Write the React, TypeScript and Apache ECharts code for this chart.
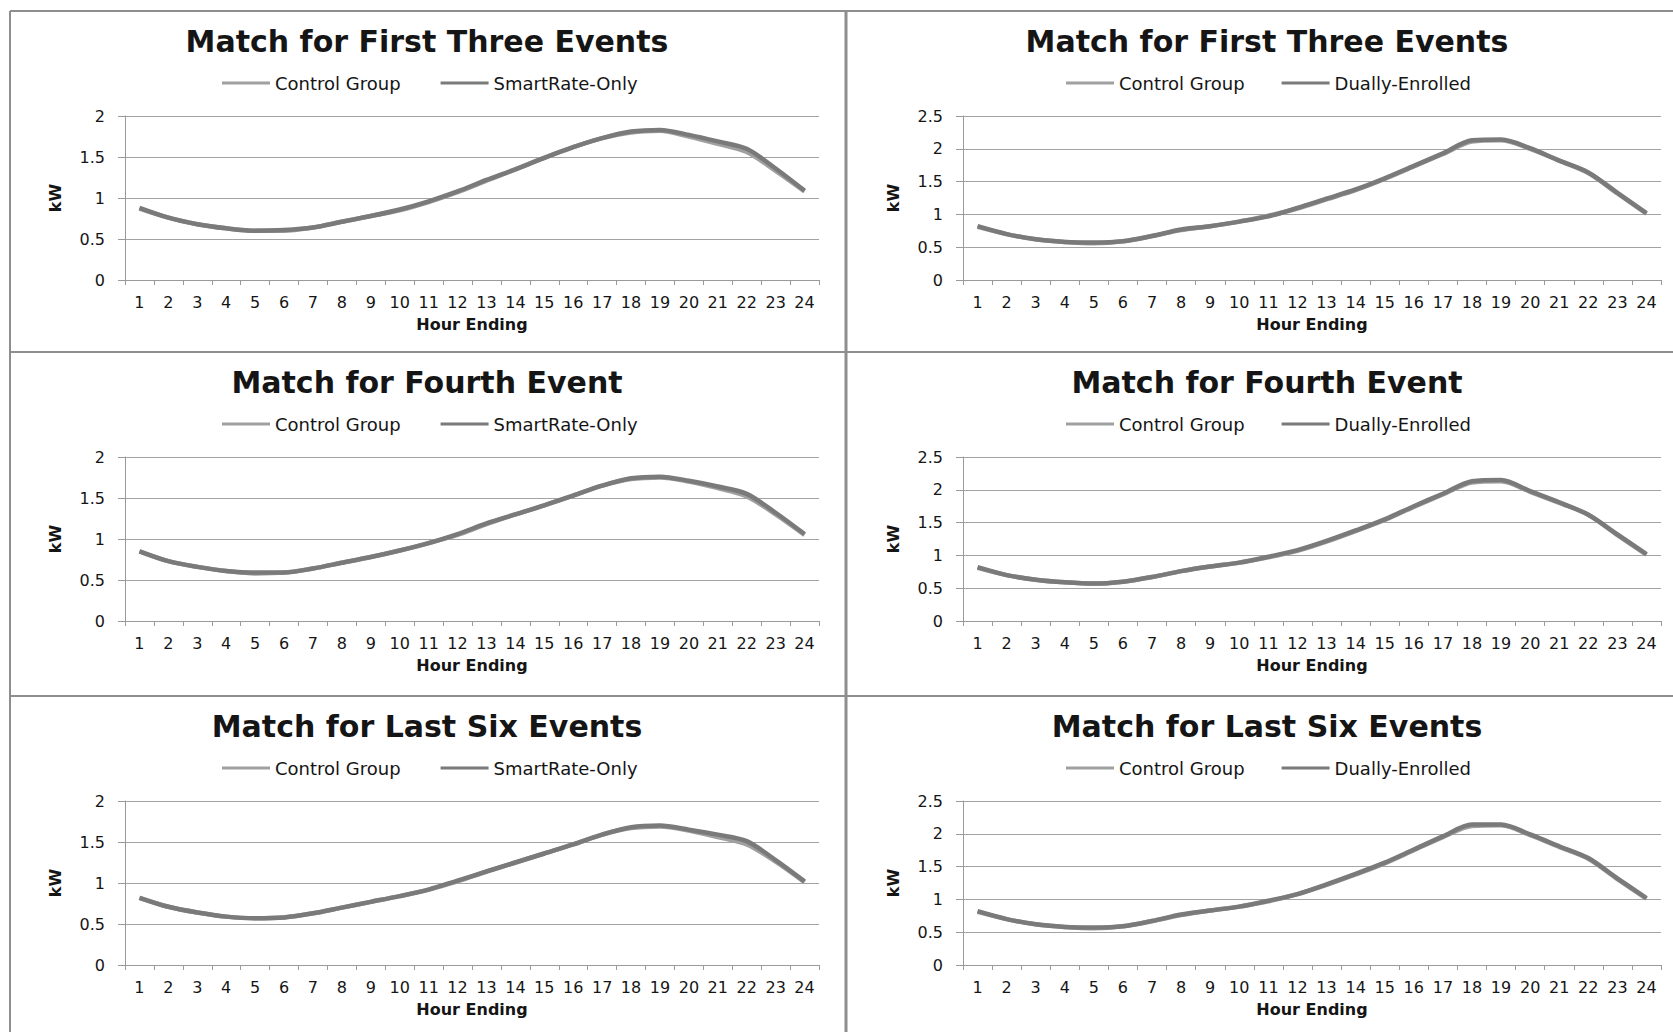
import React, { useEffect, useRef } from "react";
import * as echarts from "echarts";

// Hour-ending categories shared by all six panels
const hours: string[] = Array.from({ length: 24 }, (_, i) => String(i + 1));

// Left column: Control Group vs SmartRate-Only (kW)
const firstThreeControlA: number[] = [0.87, 0.76, 0.68, 0.63, 0.60, 0.60, 0.64, 0.71, 0.78, 0.85, 0.95, 1.07, 1.21, 1.35, 1.49, 1.62, 1.73, 1.80, 1.82, 1.75, 1.66, 1.56, 1.33, 1.08];
const firstThreeSmartRate: number[] = [0.88, 0.76, 0.68, 0.63, 0.60, 0.61, 0.64, 0.71, 0.78, 0.86, 0.96, 1.08, 1.22, 1.35, 1.49, 1.62, 1.73, 1.81, 1.83, 1.77, 1.69, 1.60, 1.36, 1.09];
const fourthControlA: number[] = [0.85, 0.73, 0.66, 0.61, 0.58, 0.59, 0.64, 0.71, 0.78, 0.86, 0.95, 1.05, 1.18, 1.30, 1.41, 1.53, 1.65, 1.73, 1.75, 1.70, 1.62, 1.52, 1.30, 1.05];
const fourthSmartRate: number[] = [0.85, 0.73, 0.66, 0.61, 0.59, 0.59, 0.64, 0.71, 0.78, 0.86, 0.95, 1.06, 1.19, 1.30, 1.41, 1.53, 1.65, 1.74, 1.76, 1.71, 1.64, 1.55, 1.32, 1.06];
const lastSixControlA: number[] = [0.82, 0.71, 0.64, 0.59, 0.57, 0.58, 0.63, 0.70, 0.77, 0.84, 0.92, 1.02, 1.14, 1.25, 1.36, 1.47, 1.59, 1.67, 1.69, 1.64, 1.56, 1.47, 1.26, 1.01];
const lastSixSmartRate: number[] = [0.82, 0.71, 0.64, 0.59, 0.57, 0.58, 0.63, 0.70, 0.77, 0.84, 0.92, 1.03, 1.14, 1.25, 1.36, 1.47, 1.59, 1.68, 1.70, 1.65, 1.59, 1.51, 1.28, 1.02];

// Right column: Control Group vs Dually-Enrolled (kW)
const firstThreeControlB: number[] = [0.81, 0.70, 0.62, 0.58, 0.56, 0.59, 0.67, 0.76, 0.82, 0.89, 0.98, 1.09, 1.23, 1.37, 1.54, 1.73, 1.92, 2.11, 2.13, 2.00, 1.82, 1.63, 1.32, 1.01];
const firstThreeDually: number[] = [0.82, 0.70, 0.62, 0.58, 0.57, 0.59, 0.67, 0.77, 0.82, 0.89, 0.97, 1.10, 1.24, 1.38, 1.55, 1.74, 1.93, 2.13, 2.14, 2.01, 1.82, 1.64, 1.33, 1.02];
const fourthControlB: number[] = [0.81, 0.70, 0.63, 0.59, 0.57, 0.60, 0.67, 0.76, 0.83, 0.89, 0.97, 1.07, 1.21, 1.37, 1.54, 1.74, 1.93, 2.11, 2.13, 1.97, 1.80, 1.62, 1.31, 1.01];
const fourthDually: number[] = [0.82, 0.70, 0.63, 0.59, 0.57, 0.60, 0.67, 0.76, 0.83, 0.89, 0.98, 1.08, 1.22, 1.38, 1.55, 1.75, 1.94, 2.13, 2.15, 1.98, 1.81, 1.62, 1.32, 1.02];
const lastSixControlB: number[] = [0.81, 0.70, 0.62, 0.58, 0.56, 0.59, 0.67, 0.76, 0.83, 0.89, 0.97, 1.08, 1.22, 1.38, 1.55, 1.75, 1.95, 2.12, 2.13, 1.98, 1.80, 1.62, 1.31, 1.01];
const lastSixDually: number[] = [0.82, 0.70, 0.62, 0.58, 0.57, 0.59, 0.67, 0.77, 0.83, 0.89, 0.98, 1.08, 1.23, 1.39, 1.56, 1.76, 1.96, 2.14, 2.14, 1.99, 1.81, 1.63, 1.32, 1.02];

const panelTitles: string[] = ["Match for First Three Events", "Match for Fourth Event", "Match for Last Six Events"];
const leftNames: string[] = ["Control Group", "SmartRate-Only"];
const rightNames: string[] = ["Control Group", "Dually-Enrolled"];
const leftData: number[][][] = [
  [firstThreeControlA, firstThreeSmartRate],
  [fourthControlA, fourthSmartRate],
  [lastSixControlA, lastSixSmartRate],
];
const rightData: number[][][] = [
  [firstThreeControlB, firstThreeDually],
  [fourthControlB, fourthDually],
  [lastSixControlB, lastSixDually],
];
const leftMax = 2;
const rightMax = 2.5;

const FONT = "DejaVu Sans";
const TEXT = "#151515";
const AXIS = "#9a9a9a";
const GRID = "#a3a3a3";
const LIGHT = "#a0a0a0";
const DARK = "#7a7a7a";

const rowTop = [11, 352, 696];
const cols = [
  { plotLeft: 125, plotWidth: 694, titleX: 427, legendX: 222, legendGap: 40, names: leftNames, data: leftData, max: leftMax },
  { plotLeft: 963, plotWidth: 698, titleX: 1267, legendX: 1066, legendGap: 37, names: rightNames, data: rightData, max: rightMax },
];

function buildOption() {
  const title: any[] = [];
  const legend: any[] = [];
  const grid: any[] = [];
  const xAxis: any[] = [];
  const yAxis: any[] = [];
  const series: any[] = [];
  let idx = 0;
  cols.forEach((col) => {
    rowTop.forEach((top, r) => {
      title.push({
        text: panelTitles[r],
        left: col.titleX,
        top: top + 30,
        textAlign: "center",
        textVerticalAlign: "middle",
        padding: 0,
        textStyle: { fontFamily: FONT, fontWeight: "bold", fontSize: 30, color: TEXT },
      });
      legend.push({
        left: col.legendX,
        top: top + 63,
        padding: 0,
        itemGap: col.legendGap,
        itemWidth: 48,
        itemHeight: 3,
        icon: "rect",
        selectedMode: false,
        data: col.names,
        textStyle: { fontFamily: FONT, fontSize: 18, color: TEXT },
      });
      grid.push({ left: col.plotLeft, width: col.plotWidth, top: top + 105, height: 164 });
      xAxis.push({
        type: "category",
        gridIndex: idx,
        data: hours,
        boundaryGap: true,
        name: "Hour Ending",
        nameLocation: "middle",
        nameGap: 36,
        nameTextStyle: { fontFamily: FONT, fontWeight: "bold", fontSize: 16, color: TEXT },
        axisLine: { lineStyle: { color: AXIS, width: 1 } },
        axisTick: { show: true, length: 5, inside: false, alignWithLabel: false, lineStyle: { color: AXIS } },
        axisLabel: { fontFamily: FONT, fontSize: 16, color: TEXT, margin: 14, interval: 0 },
        splitLine: { show: false },
      });
      yAxis.push({
        type: "value",
        gridIndex: idx,
        min: 0,
        max: col.max,
        interval: 0.5,
        name: "kW",
        nameLocation: "middle",
        nameGap: 62,
        nameRotate: 90,
        nameTextStyle: { fontFamily: FONT, fontWeight: "bold", fontSize: 16, color: TEXT },
        axisLine: { show: true, lineStyle: { color: AXIS, width: 1 } },
        axisTick: { show: true, length: 7, lineStyle: { color: AXIS } },
        axisLabel: { fontFamily: FONT, fontSize: 16, color: TEXT, margin: 20 },
        splitLine: { show: true, lineStyle: { color: GRID, width: 1 } },
      });
      col.names.forEach((name, s) => {
        series.push({
          type: "line",
          name,
          xAxisIndex: idx,
          yAxisIndex: idx,
          data: col.data[r][s],
          smooth: 0.3,
          showSymbol: false,
          symbol: "none",
          color: s === 0 ? LIGHT : DARK,
          lineStyle: { width: 4.5, color: s === 0 ? LIGHT : DARK },
          z: 2 + s,
        });
      });
      idx++;
    });
  });

  // Panel frames
  const frame = "#8e8e8e";
  const graphic: any[] = [
    { type: "line", shape: { x1: 10, y1: 11, x2: 1673, y2: 11 }, style: { stroke: frame, lineWidth: 2 } },
    { type: "line", shape: { x1: 10, y1: 11, x2: 10, y2: 1032 }, style: { stroke: frame, lineWidth: 2 } },
    { type: "line", shape: { x1: 846, y1: 11, x2: 846, y2: 1032 }, style: { stroke: frame, lineWidth: 3 } },
    { type: "line", shape: { x1: 10, y1: 352, x2: 1673, y2: 352 }, style: { stroke: frame, lineWidth: 2 } },
    { type: "line", shape: { x1: 10, y1: 696, x2: 1673, y2: 696 }, style: { stroke: frame, lineWidth: 2 } },
  ];

  return {
    animation: false,
    backgroundColor: "#ffffff",
    title,
    legend,
    grid,
    xAxis,
    yAxis,
    series,
    graphic,
  };
}

export default function App() {
  const ref = useRef<HTMLDivElement>(null);
  useEffect(() => {
    if (!ref.current) return;
    const chart = echarts.init(ref.current, null, { renderer: "svg" });
    chart.setOption(buildOption() as any);
    return () => chart.dispose();
  }, []);
  return (
    <div
      ref={ref}
      style={{ position: "absolute", left: 0, top: 0, width: 1673, height: 1032, background: "#fff" }}
    />
  );
}
